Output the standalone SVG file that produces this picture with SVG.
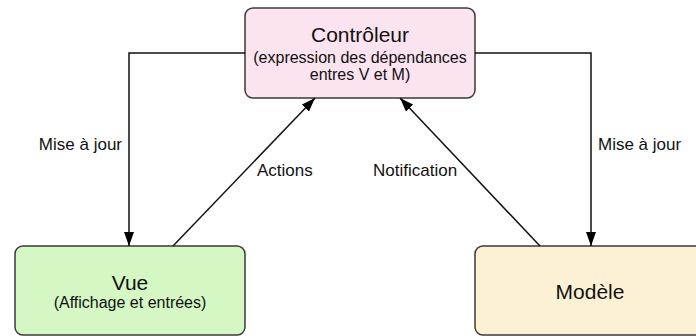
<svg xmlns="http://www.w3.org/2000/svg" width="696" height="336" viewBox="0 0 696 336">
<style>
.box{stroke:#3a3a3a;stroke-width:1.5}
.t{font-family:"Liberation Sans",Arial,sans-serif;fill:#111;text-anchor:middle}
.title{font-size:21px}
.sub{font-size:16px}
.lbl{font-family:"Liberation Sans",Arial,sans-serif;fill:#111;font-size:17px}
.edge{fill:none;stroke:#111;stroke-width:1.5}
</style>
<defs>
<marker id="arr" markerUnits="userSpaceOnUse" markerWidth="14" markerHeight="10" refX="14" refY="5" orient="auto">
<path d="M0,0 L14,5 L0,10 z" fill="#000"/>
</marker>
</defs>
<rect width="696" height="336" fill="#fff"/>
<g id="controleur">
<rect class="box" x="245" y="8" width="230" height="90" rx="8" fill="#fbe3f0"/>
<text class="t title" x="360" y="42">Contrôleur</text>
<text class="t sub" x="360" y="63">(expression des dépendances</text>
<text class="t sub" x="360" y="80">entres V et M)</text>
</g>
<g id="vue">
<rect class="box" x="15" y="246" width="230" height="89" rx="8" fill="#d5f7c4"/>
<text class="t title" x="130" y="290">Vue</text>
<text class="t sub" x="130" y="308">(Affichage et entrées)</text>
</g>
<g id="modele">
<rect class="box" x="475" y="246" width="230" height="89" rx="8" fill="#fdf1d5"/>
<text class="t title" x="590" y="299">Modèle</text>
</g>
<g id="connectors">
<path class="edge" d="M245,53 H129 V246" marker-end="url(#arr)"/>
<path class="edge" d="M475,53 H591 V246" marker-end="url(#arr)"/>
<path class="edge" d="M173,246 L315,98" marker-end="url(#arr)"/>
<path class="edge" d="M540,246 L400,98" marker-end="url(#arr)"/>
<text class="lbl" x="122" y="150" text-anchor="end">Mise à jour</text>
<text class="lbl" x="598" y="150">Mise à jour</text>
<text class="lbl" x="257" y="176">Actions</text>
<text class="lbl" x="373" y="176">Notification</text>
</g>
</svg>
